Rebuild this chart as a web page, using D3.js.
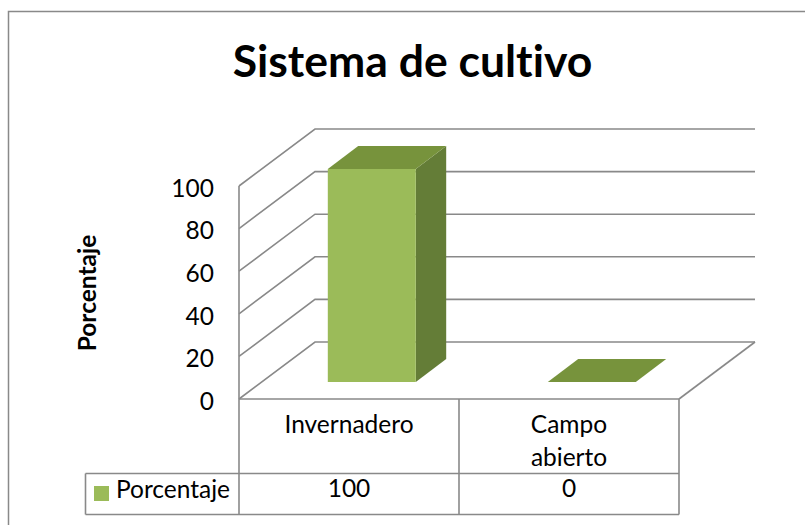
<!DOCTYPE html>
<html>
<head>
<meta charset="utf-8">
<script src="https://cdn.jsdelivr.net/npm/d3@7"></script>
<style>
  body { margin: 0; background: #fff; }
  text { font-family: Lato, "Open Sans", sans-serif; fill: #000; font-variant-ligatures: none; }
</style>
</head>
<body>
<svg id="chart" width="805" height="525"></svg>
<script>
// chart data
const categories = ["Invernadero", "Campo abierto"];
const categoryLines = [["Invernadero"], ["Campo", "abierto"]];
const values = [100, 0];
const yTicks = [0, 20, 40, 60, 80, 100];
const seriesName = "Porcentaje";
const chartTitle = "Sistema de cultivo";

const svg = d3.select("#chart");
const gridColor = "#898989";
const labelSize = "24.5px";

// front plane scales, the back wall is shifted by the depth vector
const x = d3.scaleBand().domain(categories).range([239, 679]);
const y = d3.scaleLinear().domain([0, 100]).range([399, 186]);
const depth = { dx: 76, dy: -57 };

function pt(px, py, f) {
    return [px + depth.dx * f, py + depth.dy * f];
}

// outer border (right and bottom lie outside the picture)
svg.append("path")
    .attr("d", "M8.5,530 L8.5,11.5 L820,11.5")
    .attr("fill", "none")
    .attr("stroke", gridColor)
    .attr("stroke-width", 1.5);

// title
svg.append("text")
    .attr("x", 412.5)
    .attr("y", 77)
    .attr("text-anchor", "middle")
    .attr("font-size", "44.5px")
    .attr("font-weight", "bold")
    .text(chartTitle);

// walls: left wall diagonals and back wall gridlines
const grid = svg.append("g")
    .attr("fill", "none")
    .attr("stroke", gridColor)
    .attr("stroke-width", 1.6);

yTicks.forEach(v => {
    const a = [x.range()[0], y(v)];
    const b = pt(a[0], a[1], 1);
    const c = pt(x.range()[1], y(v), 1);
    grid.append("path").attr("d", d3.line()([a, b, c]));
});

// front vertical of the left wall and right floor edge
grid.append("line")
    .attr("x1", x.range()[0]).attr("x2", x.range()[0])
    .attr("y1", y(100)).attr("y2", y(0));
const fr = [x.range()[1], y(0)];
grid.append("path").attr("d", d3.line()([fr, pt(fr[0], fr[1], 1)]));

// tick labels
svg.append("g").selectAll("text")
    .data(yTicks)
    .join("text")
    .attr("x", 214)
    .attr("y", d => y(d) + 10.7)
    .attr("text-anchor", "end")
    .attr("font-size", labelSize)
    .text(d => d);

// axis title
svg.append("text")
    .attr("transform", "translate(95.5,293) rotate(-90)")
    .attr("text-anchor", "middle")
    .attr("font-size", labelSize)
    .attr("font-weight", "bold")
    .text(seriesName);

// 3d bars
const f0 = 0.3, f1 = 0.7;
const bw = x.bandwidth() * 0.4;
const bars = svg.append("g");
values.forEach((v, i) => {
    const left = x(categories[i]) + (x.bandwidth() - bw) / 2;
    const right = left + bw;
    const top = y(v), base = y(0);

    const frontFace = [pt(left, top, f0), pt(right, top, f0), pt(right, base, f0), pt(left, base, f0)];
    const sideFace = [pt(right, top, f0), pt(right, top, f1), pt(right, base, f1), pt(right, base, f0)];
    const topFace = [pt(left, top, f0), pt(left, top, f1), pt(right, top, f1), pt(right, top, f0)];

    if (v > 0) {
        bars.append("path").attr("d", d3.line()(sideFace) + "Z").attr("fill", "#647d37");
        bars.append("path").attr("d", d3.line()(frontFace) + "Z").attr("fill", "#9bbb59");
    }
    bars.append("path").attr("d", d3.line()(topFace) + "Z").attr("fill", "#77933c");
});

// data table
const rowTop = y(0), rowMid = 473.5, rowBot = 514.5;
const legendLeft = 85.5;
const table = svg.append("g")
    .attr("fill", "none")
    .attr("stroke", gridColor)
    .attr("stroke-width", 1.6);

table.append("line").attr("x1", x.range()[0]).attr("x2", x.range()[1]).attr("y1", rowTop).attr("y2", rowTop);
table.append("line").attr("x1", legendLeft).attr("x2", x.range()[1]).attr("y1", rowMid).attr("y2", rowMid);
table.append("line").attr("x1", legendLeft).attr("x2", x.range()[1]).attr("y1", rowBot).attr("y2", rowBot);
table.append("line").attr("x1", legendLeft).attr("x2", legendLeft).attr("y1", rowMid).attr("y2", rowBot);
categories.forEach(c => {
    table.append("line").attr("x1", x(c)).attr("x2", x(c)).attr("y1", rowTop).attr("y2", rowBot);
});
table.append("line").attr("x1", x.range()[1]).attr("x2", x.range()[1]).attr("y1", rowTop).attr("y2", rowBot);

// category headers
categories.forEach((c, i) => {
    svg.append("text")
        .attr("x", x(c) + x.bandwidth() / 2)
        .attr("y", 433)
        .attr("text-anchor", "middle")
        .attr("font-size", labelSize)
        .selectAll("tspan")
        .data(categoryLines[i])
        .join("tspan")
        .attr("x", x(c) + x.bandwidth() / 2)
        .attr("dy", (d, j) => j === 0 ? 0 : 32.5)
        .text(d => d);
});

// value row
svg.append("g").selectAll("text")
    .data(values)
    .join("text")
    .attr("x", (d, i) => x(categories[i]) + x.bandwidth() / 2)
    .attr("y", 497)
    .attr("text-anchor", "middle")
    .attr("font-size", labelSize)
    .text(d => d);

// legend key
svg.append("rect")
    .attr("x", 94).attr("y", 486)
    .attr("width", 15).attr("height", 15)
    .attr("fill", "#9bbb59");
svg.append("text")
    .attr("x", 116)
    .attr("y", 498)
    .attr("font-size", labelSize)
    .text(seriesName);
</script>
</body>
</html>
